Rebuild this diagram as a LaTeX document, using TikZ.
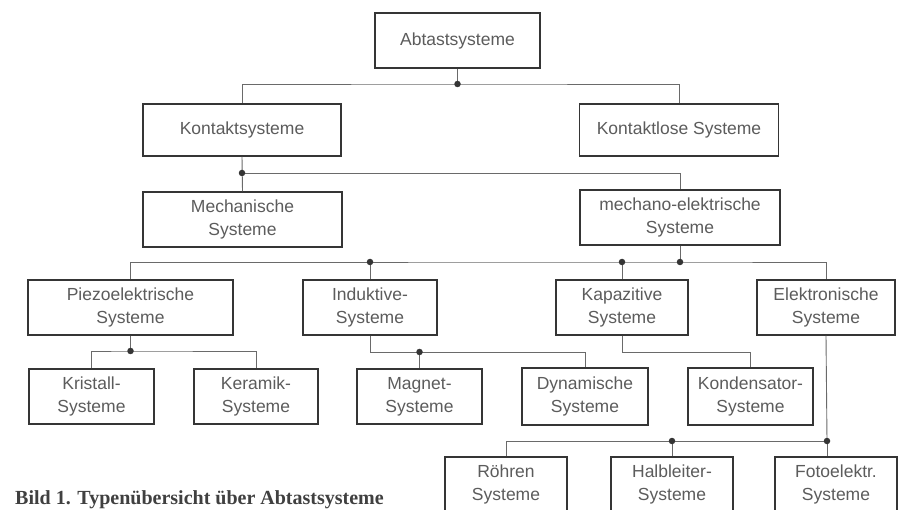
\documentclass[tikz,border=0pt]{standalone}
\usepackage{fontspec}
\setmainfont{Liberation Sans}
\newfontfamily\capfont{Liberation Serif}
\definecolor{boxline}{HTML}{353535}
\definecolor{conline}{HTML}{6A6A6A}
\definecolor{txt}{HTML}{5C5C5C}
\definecolor{captxt}{HTML}{404040}
\begin{document}
\begin{tikzpicture}[x=1pt,y=-1pt,
  box/.style={draw=boxline, line width=1.5pt, inner sep=0pt, minimum height=55pt,
    align=center, text=txt, font=\fontsize{17.5}{23}\selectfont},
  con/.style={draw=conline, line width=0.9pt},
  jdot/.style={circle, fill=boxline, inner sep=0pt, minimum size=6.5pt}]
\fill[white] (0,0) rectangle (902,510);
\useasboundingbox (0,0) rectangle (902,510);

% boxes
\node[box, minimum width=165pt] (abt) at (457.5,40.5) {Abtastsysteme};
\node[box, minimum width=198pt, minimum height=52pt] (kon) at (242,130) {Kontaktsysteme};
\node[box, minimum width=199pt, minimum height=52pt] (kol) at (679,130) {Kontaktlose Systeme};
\node[box, minimum width=199pt] (mech) at (242.5,219.5) {Mechanische\\Systeme};
\node[box, minimum width=200pt] (mel) at (680,217.5) {mechano-elektrische\\Systeme};
\node[box, minimum width=205pt] (piezo) at (130.5,307.5) {Piezoelektrische\\Systeme};
\node[box, minimum width=134pt] (ind) at (370,307.5) {Induktive-\\Systeme};
\node[box, minimum width=132pt] (kap) at (622,307.5) {Kapazitive\\Systeme};
\node[box, minimum width=138pt] (elek) at (826,307.5) {Elektronische\\Systeme};
\node[box, minimum width=125pt] (kri) at (91.5,396.5) {Kristall-\\Systeme};
\node[box, minimum width=124pt] (ker) at (256,396.5) {Keramik-\\Systeme};
\node[box, minimum width=125pt] (mag) at (419.5,396.5) {Magnet-\\Systeme};
\node[box, minimum width=126pt, minimum height=57pt] (dyn) at (585,396.5) {Dynamische\\Systeme};
\node[box, minimum width=125pt, minimum height=57pt] (kond) at (750.5,396.5) {Kondensator-\\Systeme};
\node[box, minimum width=122pt] (roe) at (506,484.5) {Röhren\\Systeme};
\node[box, minimum width=122pt] (hal) at (672,484.5) {Halbleiter-\\Systeme};
\node[box, minimum width=122pt] (foto) at (836,484.5) {Fotoelektr.\\Systeme};

% junctions
\coordinate (j1) at (457.5,84);
\coordinate (j2) at (242,173);
\coordinate (j3) at (680,262);
\coordinate (j3a) at (370,262);
\coordinate (j3b) at (622,262);
\coordinate (j4) at (130.5,351);
\coordinate (j5) at (370,352);
\coordinate (j5a) at (419.5,352);
\coordinate (j6) at (622,352);
\coordinate (j7) at (827,441);
\coordinate (j7a) at (672,441);

% connectors
\draw[con] (abt.south) -- (j1);
\draw[con] (kon.north) |- (j1) -| (kol.north);
\draw[con] (kon.south) -- (mech.north);
\draw[con] (j2) -| (mel.north);
\draw[con] (mel.south) -- (j3);
\draw[con] (piezo.north) |- (j3) -| (elek.north);
\draw[con] (j3a) -- (ind.north);
\draw[con] (j3b) -- (kap.north);
\draw[con] (piezo.south) -- (j4);
\draw[con] (kri.north) |- (j4) -| (ker.north);
\draw[con] (ind.south) -- (j5) -| (dyn.north);
\draw[con] (j5a) -- (mag.north);
\draw[con] (kap.south) -- (j6) -| (kond.north);
\draw[con] (elek.south) -- (j7);
\draw[con] (roe.north) |- (j7) -- (j7 |- foto.north);
\draw[con] (j7a) -- (hal.north);

% dots
\foreach \j in {j1,j2,j3,j3a,j3b,j4,j5a,j7,j7a}
  \node[jdot] at (\j) {};

% caption
\node[anchor=base west, inner sep=0pt, text=captxt, font=\capfont\bfseries\fontsize{20}{24}\selectfont] (cap) at (15,504) {Bild 1. Typenübersicht über Abtastsysteme};
\end{tikzpicture}
\end{document}
